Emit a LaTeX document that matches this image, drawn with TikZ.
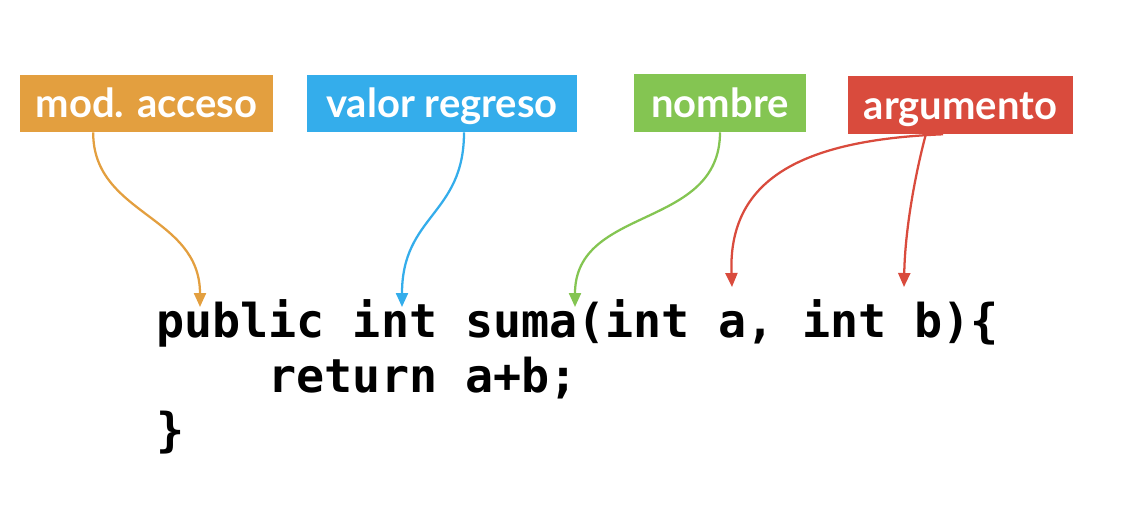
\documentclass[tikz,border=0pt]{standalone}
\usepackage{fontspec}
\usetikzlibrary{arrows.meta}
\newfontfamily\lato{Lato}
\newfontfamily\codefont{DejaVu Sans Mono}
\definecolor{corange}{HTML}{E39F3F}
\definecolor{cblue}{HTML}{34ADEB}
\definecolor{cgreen}{HTML}{84C552}
\definecolor{cred}{HTML}{D94B3D}
\begin{document}
\begin{tikzpicture}[x=0.75pt,y=-0.75pt,
  tag/.style={fill=#1, text=white, inner sep=0pt, minimum height=43pt,
    text height=24pt, text depth=3pt,
    font=\lato\bfseries\fontsize{30}{34}\selectfont},
  code/.style={inner sep=0pt, anchor=base west, font=\codefont\bfseries\fontsize{35}{40}\selectfont},
  conn/.style={draw=#1, line width=1.7pt, -{Triangle[length=10.5pt,width=9pt]}}]
\useasboundingbox (0,0) rectangle (1125,529);
\node[tag=corange, minimum width=189.75pt] (mod) at (146.5,103.5) {mod. acceso};
\node[tag=cblue, minimum width=202.5pt] (val) at (442,103.5) {valor regreso};
\node[tag=cgreen, minimum width=129pt, minimum height=43.5pt] (nom) at (720,103) {nombre};
\node[tag=cred, minimum width=168.75pt, minimum height=43.5pt] (arg) at (960.5,105) {argumento};
\node[code] (l1) at (156,337) {public int suma(int a, int b)\{};
\node[code] (l2) at (156,392) {\ \ \ \ return a+b;};
\node[code] (l3) at (156,446) {\}};
\coordinate (tpub) at (200,307);
\coordinate (tint) at (402,307);
\coordinate (tsuma) at (575,307);
\coordinate (ta) at (732,287);
\coordinate (tb) at (904,287);
\draw[conn=corange] ([xshift=-40pt]mod.south) .. controls (93,215) and (200,215) .. (tpub);
\draw[conn=cblue] ([xshift=16.5pt]val.south) .. controls (464,215) and (402,215) .. (tint);
\draw[conn=cgreen] (nom.south) .. controls (720,230) and (575,205) .. (tsuma);
\draw[conn=cred] ([xshift=-13pt]arg.south) .. controls (800,140) and (728,180) .. (ta);
\draw[conn=cred] ([xshift=-26pt]arg.south) .. controls (915,175) and (905,230) .. (tb);
\end{tikzpicture}
\end{document}
